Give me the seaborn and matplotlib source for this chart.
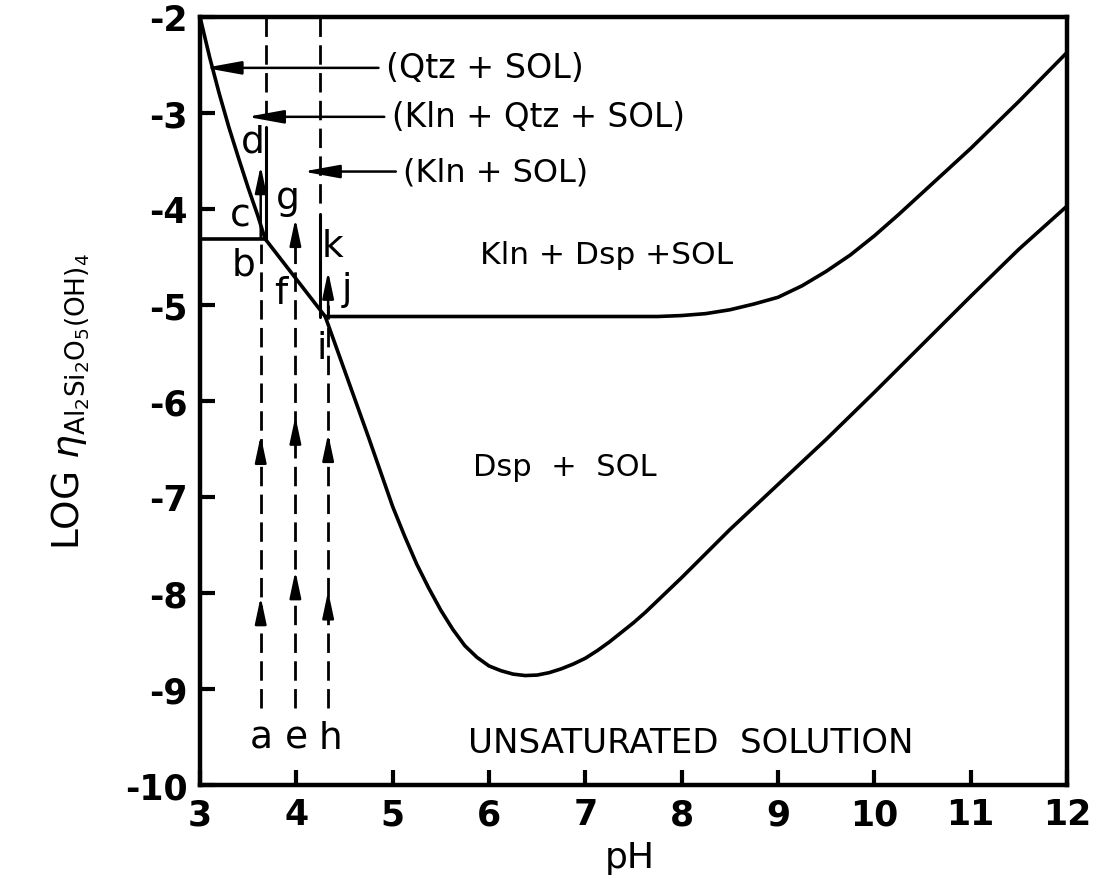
import matplotlib
matplotlib.use("Agg")
import matplotlib.pyplot as plt
import numpy as np
import pandas as pd
import seaborn as sns

# Quartz-saturation curve, kaolinite line and kaolinite boundary (pH, log activity)
upper_ph = [3.0, 3.1, 3.2, 3.3, 3.4, 3.5, 3.6, 3.675, 4.30, 5.0, 6.0, 7.0, 7.5,
            7.75, 8.0, 8.25, 8.5, 8.75, 9.0, 9.25, 9.5, 9.75, 10.0, 10.25, 10.5,
            11.0, 11.5, 12.0]
upper_log = [-2.0, -2.42, -2.80, -3.15, -3.47, -3.78, -4.07, -4.31, -5.12, -5.12,
             -5.12, -5.12, -5.12, -5.12, -5.11, -5.09, -5.05, -4.99, -4.92, -4.80,
             -4.65, -4.48, -4.28, -4.06, -3.83, -3.37, -2.88, -2.37]

# Diaspore solubility curve
dsp_ph = [4.30, 4.50, 4.75, 5.00, 5.125, 5.25, 5.375, 5.50, 5.625, 5.75, 5.875,
          6.00, 6.125, 6.25, 6.375, 6.50, 6.625, 6.75, 6.875, 7.00, 7.125, 7.25,
          7.375, 7.50, 7.625, 7.75, 8.00, 8.50, 9.00, 9.50, 10.00, 10.50, 11.00,
          11.50, 12.00]
dsp_log = [-5.12, -5.68, -6.38, -7.10, -7.41, -7.70, -7.95, -8.18, -8.38, -8.55,
           -8.67, -8.76, -8.81, -8.845, -8.86, -8.855, -8.83, -8.79, -8.74, -8.68,
           -8.60, -8.51, -8.41, -8.31, -8.20, -8.08, -7.84, -7.34, -6.87, -6.40,
           -5.91, -5.41, -4.91, -4.42, -3.97]

# Kaolinite + quartz boundary
kq_ph = [3.0, 3.675]
kq_log = [-4.31, -4.31]

# Vertical phase limits: dashed upper part, solid lower part
limit_ph = [3.69, 4.25]
limit_dash_top = [-2.0, -2.0]
limit_dash_bottom = [-3.05, -3.95]
limit_solid_top = [-3.15, -4.05]
limit_solid_bottom = [-4.31, -5.12]

# Titration paths a, e, h
path_ph = [3.63, 3.99, 4.33]
path_start = [-9.2, -9.2, -9.2]
path_dash_end = [-4.31, -4.40, -5.0]
path_arrow_tips = [[-6.36, -8.04], [-6.16, -7.77], [-6.34, -7.98]]
# Solid end segments with arrow (start, tip)
path_end_from = [-4.31, -4.40, -5.12]
path_end_tip = [-3.55, -4.10, -4.65]

# Point labels
point_text = ["a", "e", "h", "b", "c", "d", "f", "g", "i", "j", "k"]
point_ph = [3.64, 4.00, 4.35, 3.45, 3.42, 3.55, 3.84, 3.91, 4.26, 4.52, 4.37]
point_log = [-9.51, -9.51, -9.51, -4.58, -4.07, -3.30, -4.88, -3.89, -5.45, -4.83, -4.39]

# Pointer notes
note_text = ["(Qtz + SOL)", "(Kln + Qtz + SOL)", "(Kln + SOL)"]
note_tip_ph = [3.05, 3.49, 4.07]
note_text_ph = [4.93, 4.99, 5.11]
note_log = [-2.53, -3.04, -3.61]
note_size = [24, 23.5, 23]

# Field labels
field_text = ["Kln + Dsp +SOL", "Dsp  +  SOL", "UNSATURATED  SOLUTION"]
field_ph = [7.22, 6.79, 8.09]
field_log = [-4.47, -6.68, -9.56]
field_size = [22.5, 22, 24.5]

x_ticks = list(range(3, 13))
y_ticks = list(range(-2, -11, -1))

sns.set_style("ticks")
plt.rcParams["font.family"] = ["DejaVu Sans"]
plt.rcParams["axes.unicode_minus"] = False
plt.rcParams["mathtext.fontset"] = "dejavusans"
for key in ["text.color", "axes.labelcolor", "xtick.color", "ytick.color",
            "axes.edgecolor"]:
    plt.rcParams[key] = "black"

fig = plt.figure(figsize=(10.96, 8.95), dpi=100)
ax = fig.add_axes([0.1825, 0.1218, 0.7910, 0.8581])

curve_df = pd.concat([
    pd.DataFrame({"pH": upper_ph, "log": upper_log, "curve": "upper"}),
    pd.DataFrame({"pH": dsp_ph, "log": dsp_log, "curve": "dsp"}),
    pd.DataFrame({"pH": kq_ph, "log": kq_log, "curve": "kq"}),
])
sns.lineplot(data=curve_df, x="pH", y="log", units="curve", estimator=None,
             sort=False, color="black", linewidth=2.6, ax=ax, legend=False)

dash = (7, 3)
for x, d0, d1, s0, s1 in zip(limit_ph, limit_dash_top, limit_dash_bottom,
                             limit_solid_top, limit_solid_bottom):
    ax.plot([x, x], [d0, d1], color="black", lw=2.0, dashes=dash)
    ax.plot([x, x], [s0, s1], color="black", lw=2.2)

head = dict(arrowstyle="-|>,head_length=0.8,head_width=0.17", mutation_scale=20,
            color="black", lw=1.8, shrinkA=0, shrinkB=0)
for x, y0, y1, tips, e0, e1 in zip(path_ph, path_start, path_dash_end,
                                    path_arrow_tips, path_end_from, path_end_tip):
    ax.plot([x, x], [y0, y1], color="black", lw=2.0, dashes=dash)
    for t in tips:
        ax.annotate("", xy=(x, t), xytext=(x, t - 0.23), arrowprops=head)
    ax.annotate("", xy=(x, e1), xytext=(x, e0), arrowprops=head)

for t, x, y in zip(point_text, point_ph, point_log):
    ax.text(x, y, t, fontsize=27, ha="center", va="center")

pointer = dict(arrowstyle="-|>,head_length=1.1,head_width=0.2", mutation_scale=20,
               color="black", lw=1.8, shrinkA=3, shrinkB=0, relpos=(0, 0.5))
for t, tip, tx, y, fs in zip(note_text, note_tip_ph, note_text_ph, note_log, note_size):
    ax.annotate(t, xy=(tip, y), xytext=(tx, y), fontsize=fs, ha="left",
                va="center", arrowprops=pointer)

for t, x, y, fs in zip(field_text, field_ph, field_log, field_size):
    ax.text(x, y, t, fontsize=fs, ha="center", va="center")

ax.set_xlim(3, 12)
ax.set_ylim(-10, -2)
ax.set_xticks(x_ticks)
ax.set_yticks(y_ticks)
ax.set_xticklabels([str(v) for v in x_ticks], fontsize=25, fontweight="bold")
ax.set_yticklabels([str(v) for v in y_ticks], fontsize=25, fontweight="bold")
ax.tick_params(direction="in", length=11, width=3, pad=9, top=False, right=False)
for s in ax.spines.values():
    s.set_linewidth(3.2)
    s.set_color("black")

ax.set_xlabel("pH", fontsize=26)
ax.xaxis.set_label_coords(0.496, -0.072)
ax.set_ylabel(r"LOG $\eta_{\mathrm{Al_2Si_2O_5(OH)_4}}$", fontsize=27)
ax.yaxis.set_label_coords(-0.125, 0.5)

fig.savefig("out.png", dpi=100, facecolor="white")
